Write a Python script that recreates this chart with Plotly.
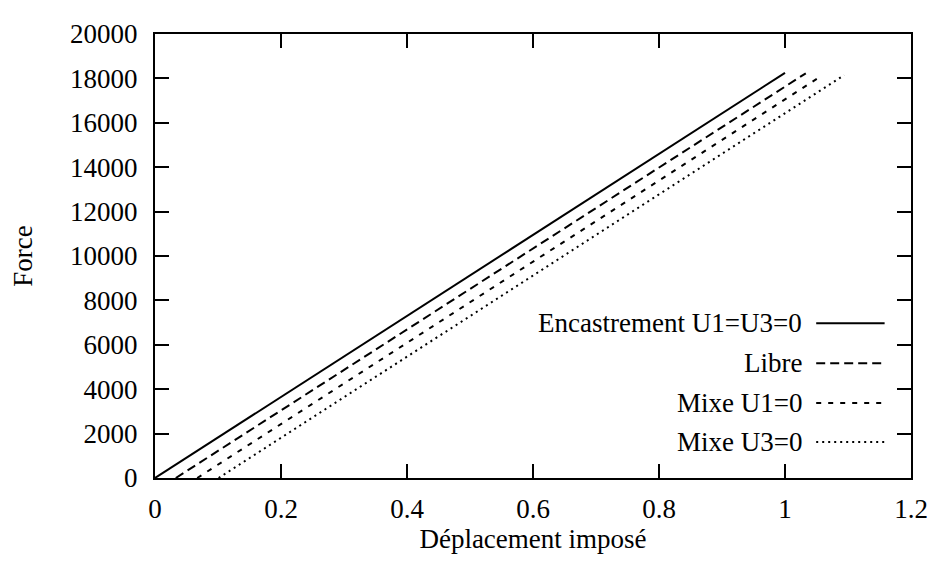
import plotly.graph_objects as go

# Data
series_names = ["Encastrement U1=U3=0", "Libre", "Mixe U1=0", "Mixe U3=0"]
x_start = [0.0, 0.033, 0.067, 0.101]
x_end = [1.0, 1.033, 1.057, 1.094]
force_start = [0, 0, 0, 0]
force_end = [18250, 18230, 18100, 18150]
x_ticks = [0, 0.2, 0.4, 0.6, 0.8, 1, 1.2]
x_tick_labels = ["0", "0.2", "0.4", "0.6", "0.8", "1", "1.2"]
y_ticks = list(range(0, 20001, 2000))
y_tick_labels = [str(v) for v in y_ticks]

dashes = ["solid", "9px,5px", "5px,7px", "2px,4px"]
FONT = "Liberation Serif"
FS = 27

fig = go.Figure()
for i, name in enumerate(series_names):
    fig.add_trace(go.Scatter(
        x=[x_start[i], x_end[i]], y=[force_start[i], force_end[i]],
        mode="lines", name=name, showlegend=False,
        line=dict(color="black", width=2, dash=dashes[i]),
    ))

# Manual legend (gnuplot style: text on the left, sample on the right)
row_y = [0.3483, 0.2585, 0.1688, 0.0812]
for i, name in enumerate(series_names):
    fig.add_annotation(
        xref="paper", yref="paper", x=0.858, y=row_y[i],
        text=name, showarrow=False, xanchor="right", yanchor="middle",
        font=dict(family=FONT, size=FS, color="black"),
    )
    fig.add_shape(
        type="line", xref="paper", yref="paper",
        x0=0.8746, x1=0.9651, y0=row_y[i], y1=row_y[i],
        line=dict(color="black", width=2, dash=dashes[i]),
    )

axis_common = dict(
    showline=True, linecolor="black", linewidth=2, mirror="ticks",
    ticks="inside", ticklen=14, tickwidth=2, tickcolor="black",
    showgrid=False, zeroline=False, ticklabeloverflow="allow",
    tickfont=dict(family=FONT, size=FS, color="black"),
    title_font=dict(family=FONT, size=FS, color="black"),
)

fig.update_xaxes(
    range=[0, 1.2], tickvals=x_ticks, ticktext=x_tick_labels,
    title_text="Déplacement imposé", title_standoff=6,
    ticklabelstandoff=6, **axis_common,
)
fig.update_yaxes(
    range=[0, 20000], tickvals=y_ticks, ticktext=y_tick_labels,
    title_text="Force", title_standoff=32,
    ticklabelstandoff=10, **axis_common,
)

# the page body has an 8px default margin, so the figure is sized to fit the window
fig.update_layout(
    width=931, height=552,
    margin=dict(l=144, r=14, t=11, b=73),
    plot_bgcolor="white", paper_bgcolor="white",
    font=dict(family=FONT, size=FS, color="black"),
)

fig.write_html("out.html")
